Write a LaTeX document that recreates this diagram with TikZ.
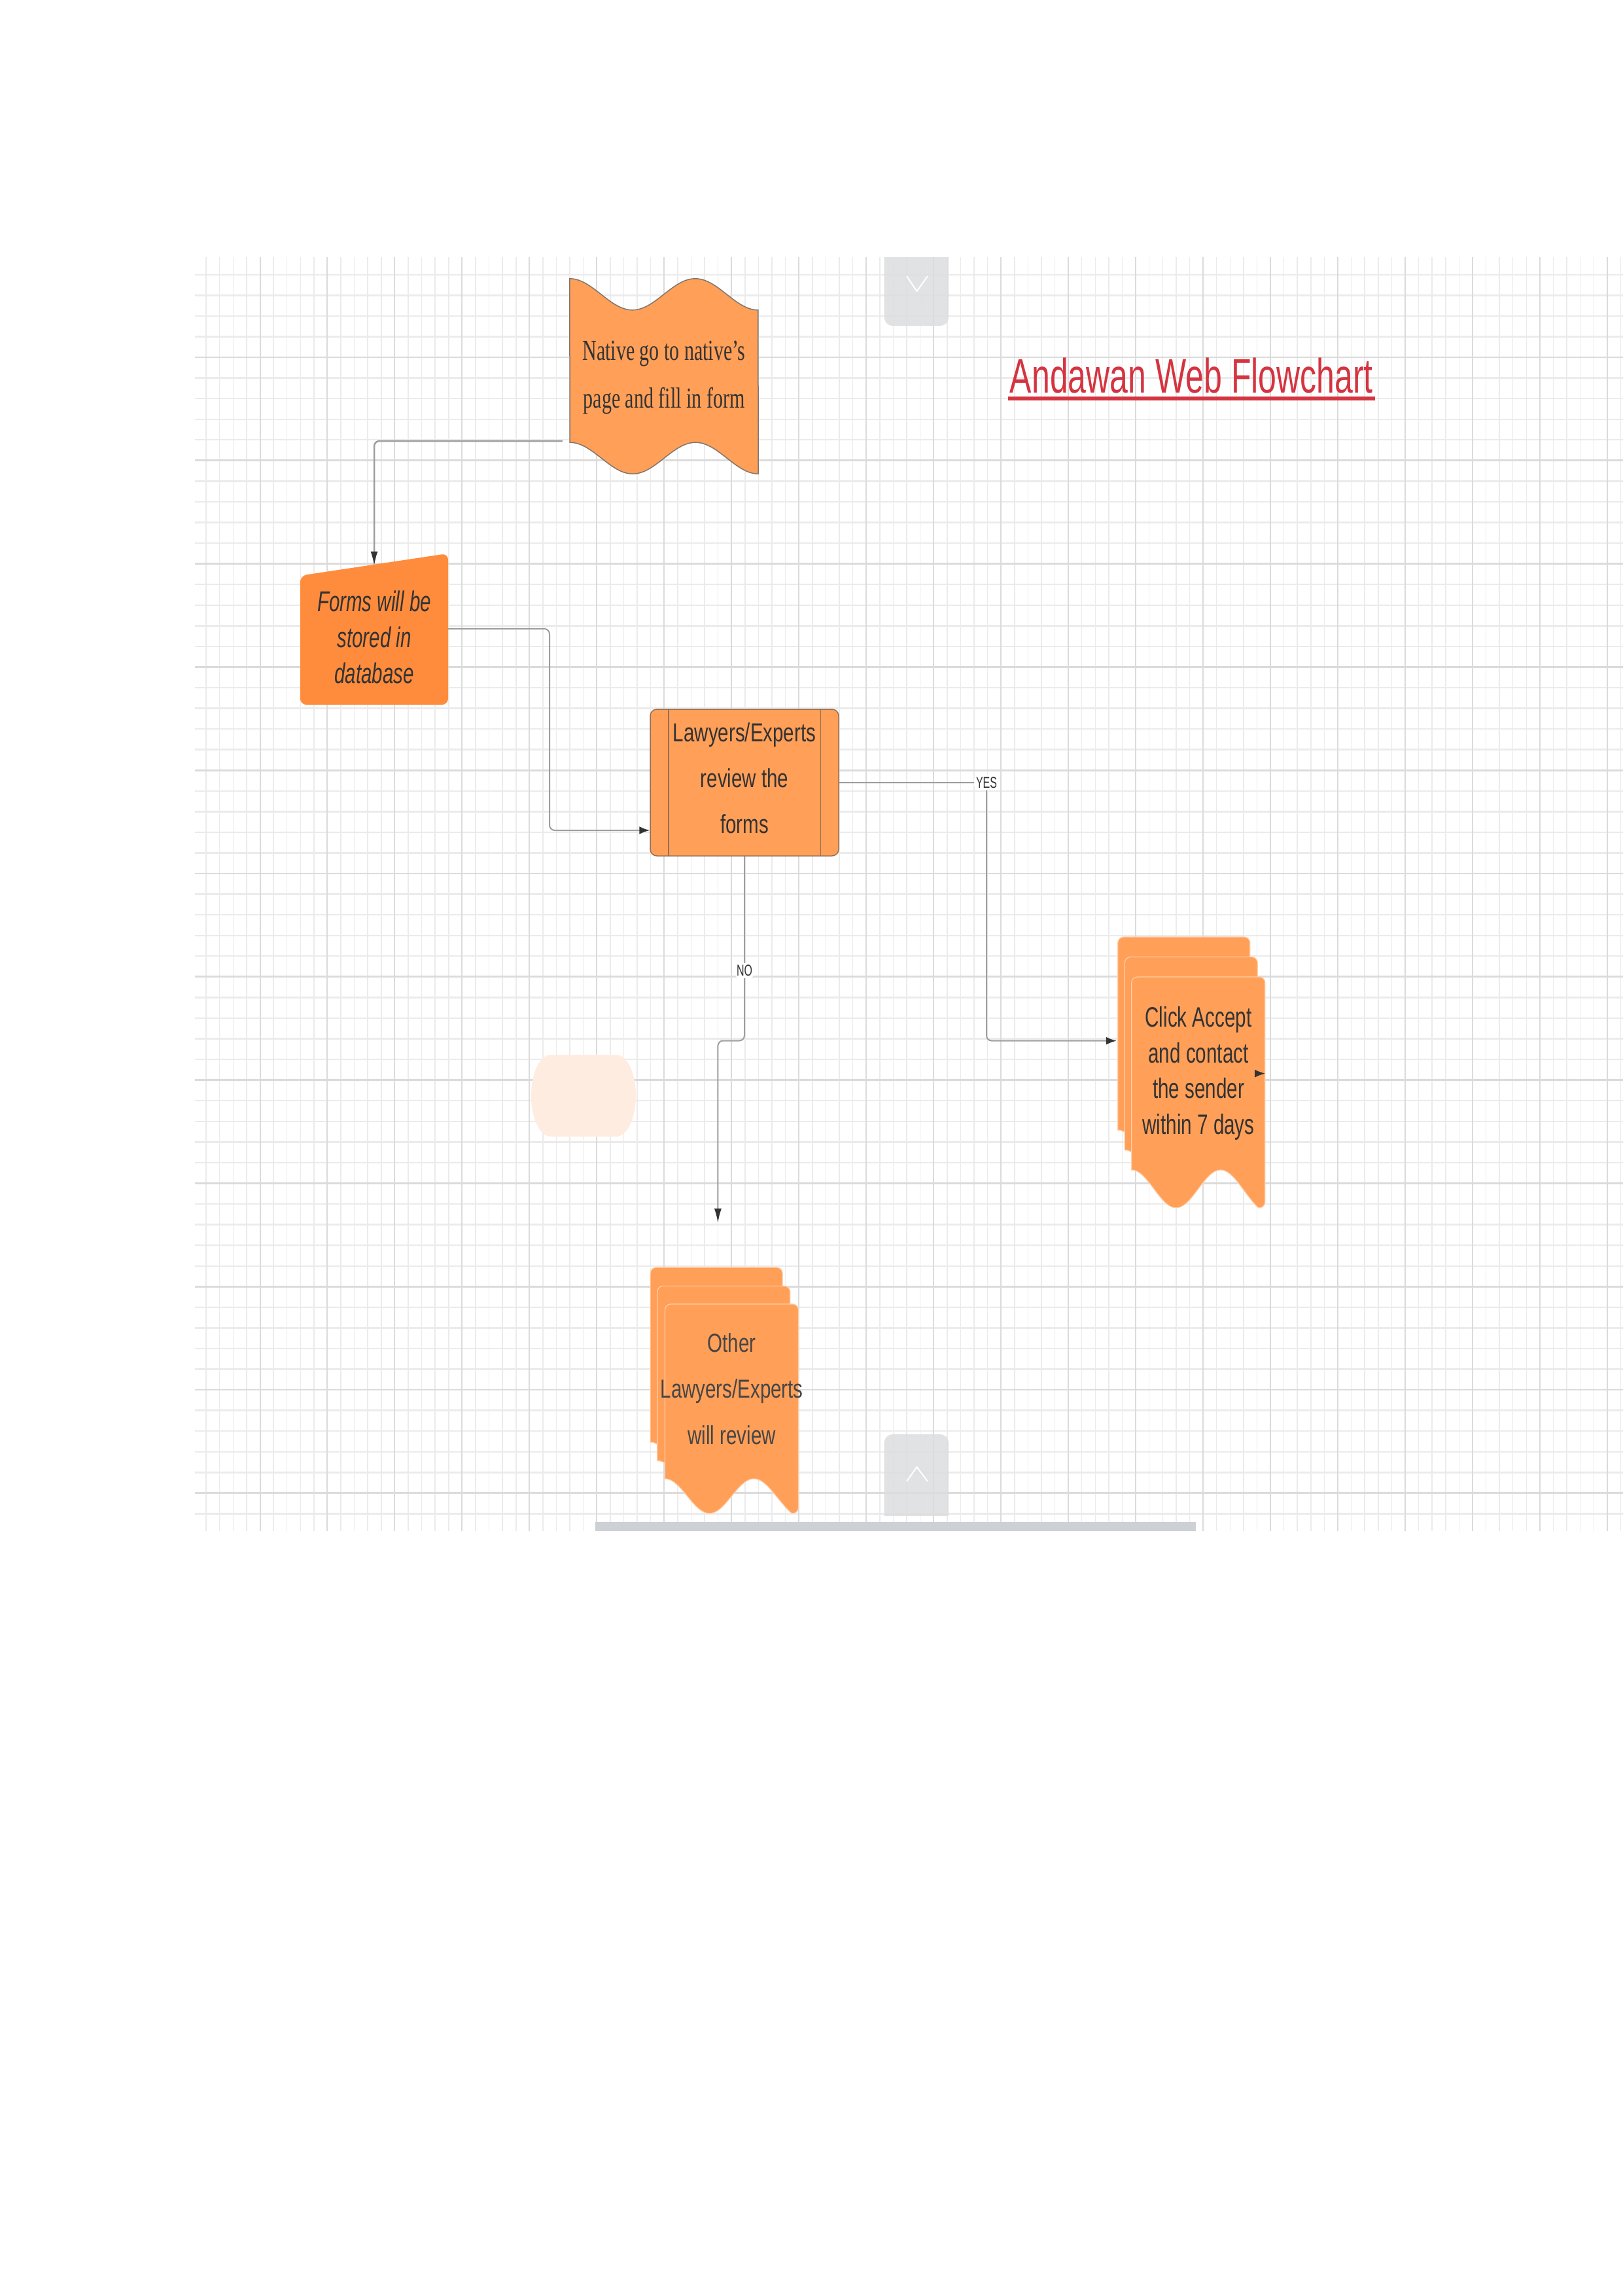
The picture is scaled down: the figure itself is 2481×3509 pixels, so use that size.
\documentclass[tikz,border=0pt]{standalone}
\usepackage{fontspec}
\setmainfont{Liberation Serif}
\setsansfont{Liberation Sans}
\usepackage{graphicx}
\usetikzlibrary{arrows.meta,calc}
\definecolor{ShapeOrange}{RGB}{255,159,88}
\definecolor{FormsOrange}{RGB}{255,140,60}
\definecolor{PaleOrange}{RGB}{255,236,224}
\definecolor{SheetEdge}{RGB}{255,206,168}
\definecolor{EdgeBrown}{RGB}{150,112,84}
\definecolor{TapeEdge}{RGB}{130,118,108}
\definecolor{TitleRed}{RGB}{212,52,64}
\definecolor{TextGray}{RGB}{51,51,51}
\definecolor{SoftText}{RGB}{70,70,70}
\definecolor{LineGray}{RGB}{158,158,158}
\definecolor{TipDark}{RGB}{51,51,51}
\definecolor{GridMinor}{RGB}{235,235,235}
\definecolor{GridMajor}{RGB}{219,219,219}
\definecolor{ButtonGray}{RGB}{220,221,224}
\definecolor{ScrollGray}{RGB}{205,208,212}
\pgfdeclarelayer{grid}
\pgfdeclarelayer{shapes}
\pgfsetlayers{grid,shapes,main}
% stretched text block (the reference is drawn taller than wide)
\newcommand{\tall}[2][1.48]{\scalebox{1}[#1]{\begin{tabular}{@{}c@{}}#2\end{tabular}}}
% lift a text block without changing the size of its node
\newcommand{\lift}[2]{\raisebox{#1}[\height][\depth]{#2}}
% one sheet of a stack: top left corner, width, height, wave depth
\newcommand{\wavesheet}[4]{%
  \path[sheet] #1 ++(0,#3) [rounded corners=9pt] -- ++(0,-#3) -- ++(#2,0)
    -- ++(0,#3+#4) [sharp corners]
    cos ++({-#2/6},{-#4/2}) sin ++({-#2/6},{-#4/2})
    cos ++({-#2/6},{#4/2}) sin ++({-#2/6},{#4/2})
    cos ++({-#2/6},{-#4/2}) sin ++({-#2/6},{-#4/2}) -- cycle;}
\tikzset{
  minorv/.style={draw=GridMinor,line width=1.5pt},
  minorh/.style={draw=GridMinor,line width=2.4pt},
  majorv/.style={draw=GridMajor,line width=2pt},
  majorh/.style={draw=GridMajor,line width=2.8pt},
  shapebox/.style={inner sep=0pt,text=TextGray},
  tape/.style={fill=ShapeOrange,draw=TapeEdge,line width=1.5pt},
  predef/.style={shapebox,fill=ShapeOrange,draw=EdgeBrown,line width=1.5pt,rounded corners=10pt},
  sheet/.style={fill=ShapeOrange,draw=SheetEdge,line width=1.2pt},
  flow/.style={draw=LineGray,line width=2pt,rounded corners=8pt,-{Latex[length=16pt,width=12pt,color=TipDark]}},
  downflow/.style={flow,-{Latex[length=22pt,width=11pt,color=TipDark]}},
  lab/.style={fill=white,inner sep=3pt,text=TextGray,font=\sffamily\fontsize{16}{19}\selectfont},
}

\begin{document}
\begin{tikzpicture}[x=1pt,y=-1pt]
\useasboundingbox (0,0) rectangle (2481,3509);
% grid paper, canvas buttons, scroll bar
\begin{pgfonlayer}{grid}
\fill[white] (0,0) rectangle (2481,3509);
\foreach \i in {0,...,105} \draw[minorv] ({315.1+\i*20.594},393) -- ({315.1+\i*20.594},2340);
\foreach \j in {0,...,60} \draw[minorh] (298,{419.8+\j*31.56}) -- (2481,{419.8+\j*31.56});
\foreach \k in {0,...,20} \draw[majorv] ({397.5+\k*102.97},393) -- ({397.5+\k*102.97},2340);
\foreach \k in {0,...,11} \draw[majorh] (298,{546+\k*157.8}) -- (2481,{546+\k*157.8});
\begin{scope}
  \clip (1340,393) rectangle (1460,520);
  \fill[ButtonGray,fill opacity=0.85,rounded corners=13pt] (1351.7,370) rectangle (1450,498);
\end{scope}
\draw[white,line width=2pt] (1386,422) -- (1401.5,445) -- (1418,422);
\begin{scope}
  \clip (1340,2180) rectangle (1460,2316.5);
  \fill[ButtonGray,fill opacity=0.85,rounded corners=13pt] (1351.7,2192) rectangle (1450,2340);
\end{scope}
\draw[white,line width=2pt] (1386,2264) -- (1401.5,2242) -- (1418,2264);
\fill[ScrollGray] (910,2326) rectangle (1828,2340);
\end{pgfonlayer}

% title
\node[font=\sffamily\fontsize{50}{60}\selectfont,text=TitleRed,inner xsep=3pt,inner ysep=0pt,anchor=base] (title) at (1821.4,600) {\scalebox{1}[1.48]{Andawan Web Flowchart}};
\draw[TitleRed,line width=5.7pt] ([yshift=-9pt]title.base west) -- ([yshift=-9pt]title.base east);

% steps
\node[shapebox,minimum width=288,minimum height=298,font=\rmfamily\fontsize{30}{49.3}\selectfont] (native) at (1015,575) {\lift{3pt}{\tall{Native go to native's\\page and fill in form}}};
\node[shapebox,minimum width=226,minimum height=197,font=\sffamily\itshape\fontsize{29.5}{37.2}\selectfont] (forms) at (572,978.5) {\tall{Forms will be\\stored in\\database}};
\node[predef,minimum width=288,minimum height=224,font=\sffamily\fontsize{29.5}{51.9}\selectfont] (review) at (1138,1196) {\lift{6.5pt}{\tall[1.35]{Lawyers/Experts\\review the\\forms}}};
\node[shapebox,minimum width=204,minimum height=295,font=\sffamily\fontsize{29.6}{37.5}\selectfont] (accept) at (1832,1640.65) {\tall[1.45]{Click Accept\\and contact\\the sender\\within 7 days}};
\node[shapebox,text=SoftText,minimum width=204,minimum height=267,font=\sffamily\fontsize{29.5}{52.2}\selectfont] (other) at (1118.7,2126.65) {\makebox[0pt]{\lift{4pt}{\tall[1.35]{Other\\Lawyers/Experts\\will review}}}};
\draw[EdgeBrown,line width=1.5pt] ([xshift=28.5pt]review.north west) -- ([xshift=28.5pt]review.south west);
\draw[EdgeBrown,line width=1.5pt] ([xshift=-28.5pt]review.north east) -- ([xshift=-28.5pt]review.south east);

% outlines behind the texts
\begin{pgfonlayer}{shapes}
\path[tape] (native.north west) cos ++(48,24) sin ++(48,24) cos ++(48,-24) sin ++(48,-24) cos ++(48,24) sin ++(48,24)
  -- (native.south east) cos ++(-48,-24) sin ++(-48,-24) cos ++(-48,24) sin ++(-48,24) cos ++(-48,-24) sin ++(-48,-24) -- cycle;
\path[fill=FormsOrange,rounded corners=10pt] (forms.south west) -- (forms.north west) -- ([yshift=34pt]forms.north east) -- (forms.south east) -- cycle;
\wavesheet{($(accept.north west)+(-21,-61)$)}{202}{295}{58}
\wavesheet{($(accept.north west)+(-10.5,-30.5)$)}{203}{295}{58}
\wavesheet{(accept.north west)}{204}{295}{58}
\wavesheet{($(other.north west)+(-22.4,-56)$)}{202}{267}{53}
\wavesheet{($(other.north west)+(-11.7,-27.6)$)}{203}{267}{53}
\wavesheet{(other.north west)}{204}{267}{53}
% empty terminator
\fill[PaleOrange] (842,1612) -- (942,1612) arc[start angle=90,end angle=-90,x radius=30pt,y radius=62.5pt]
  -- (842,1737) arc[start angle=270,end angle=90,x radius=30pt,y radius=62.5pt] -- cycle;
\end{pgfonlayer}

% connectors
\coordinate (formsbend) at (840,1269);
\coordinate (yesbend) at (1508,1590.6);
\coordinate (nobend) at (1138,1590.5);
\coordinate (nojog) at (1097.4,1590.5);
\coordinate (noend) at (1097.4,1869);
\draw[downflow,line width=2.5pt] ([shift={(-11pt,-99pt)}]native.west) -| ([yshift=15pt]forms.north);
\draw[flow] ([yshift=17.5pt]forms.east) -| (formsbend) -- ([yshift=-73pt]review.west);
\draw[flow] (review.east) -| node[lab]{\scalebox{1}[1.5]{YES}} (yesbend) -- ([shift={(-23pt,50pt)}]accept.west);
\draw[downflow] (review.south) -- node[lab,pos=0.62]{\scalebox{1}[1.5]{NO}} (nobend) -- (nojog) -- (noend);
\draw[flow] ([xshift=-16pt]accept.east) -- (accept.east);
\end{tikzpicture}
\end{document}
